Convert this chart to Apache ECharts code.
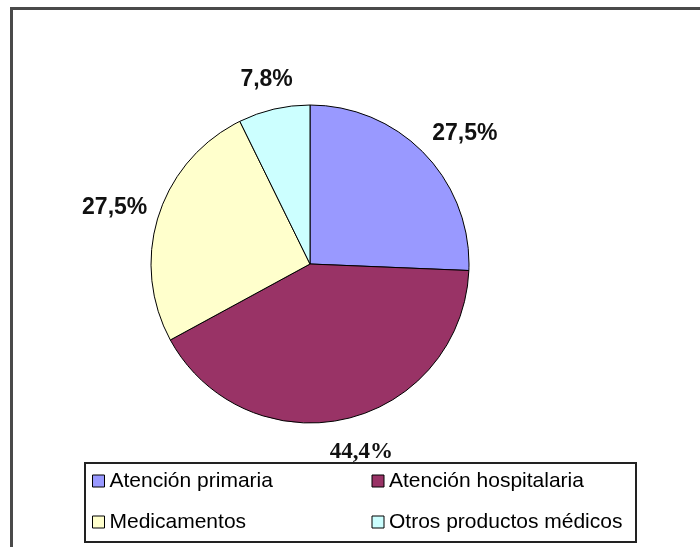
<!DOCTYPE html>
<html>
<head>
<meta charset="utf-8">
<script src="https://cdn.jsdelivr.net/npm/echarts@6/dist/echarts.min.js"></script>
<style>
  html, body { margin: 0; padding: 0; background: #fff; }
  #chart { width: 700px; height: 547px; }
</style>
</head>
<body>
<div id="chart"></div>
<script>
// gasto sanitario por función (%)
const categories = ['Atención primaria', 'Atención hospitalaria', 'Medicamentos', 'Otros productos médicos']
const values = [27.5, 44.4, 27.5, 7.8]
const colors = ['#9999FF', '#993366', '#FFFFCC', '#CCFFFF']

const pieX = 310
const chart = echarts.init(document.getElementById('chart'))

const pieData = categories.map((name, i) => ({ name, value: values[i] }))

// invisible ring outside the pie, only used to place the value labels
const labelData = categories.map((name, i) => ({
  name,
  value: values[i],
  label: i === 1 ? { fontFamily: '"Liberation Serif", "Times New Roman", serif' } : {}
}))

chart.setOption({
  animation: false,
  color: colors,
  graphic: [{
    type: 'rect',
    shape: { x: 11.5, y: 8.5, width: 760, height: 600 },
    style: { fill: 'none', stroke: '#4a4a4a', lineWidth: 3 },
    silent: true
  }],
  legend: {
    data: categories,
    left: 85,
    top: 463,
    width: 580,
    orient: 'horizontal',
    padding: [6, 2, 8, 7],
    itemGap: 17,
    itemWidth: 12,
    itemHeight: 12,
    icon: 'rect',
    borderColor: '#222',
    borderWidth: 2,
    itemStyle: { borderColor: '#000', borderWidth: 1 },
    textStyle: {
      fontFamily: '"Liberation Sans", Arial, sans-serif',
      fontSize: 21,
      color: '#000',
      width: 245,
      lineHeight: 24
    },
    selectedMode: false
  },
  series: [
    {
      type: 'pie',
      center: [pieX, 264],
      radius: 159,
      startAngle: 90,
      clockwise: true,
      label: { show: false },
      labelLine: { show: false },
      itemStyle: { borderColor: '#000', borderWidth: 1 },
      emphasis: { disabled: true },
      data: pieData
    },
    {
      type: 'pie',
      center: [pieX, 266],
      radius: [172, 204],
      startAngle: 90,
      clockwise: true,
      silent: true,
      itemStyle: { color: 'rgba(0,0,0,0)', borderWidth: 0 },
      labelLine: { show: false },
      label: {
        show: true,
        position: 'inside',
        color: '#111',
        fontSize: 23,
        fontWeight: 'bold',
        fontFamily: '"Liberation Sans", Arial, sans-serif',
        formatter: p => String(p.value).replace('.', ',') + '%'
      },
      // labels sit a bit wider than tall around the pie
      labelLayout: p => ({ dx: (p.labelRect.x + p.labelRect.width / 2 - pieX) * 0.095 + 4 }),
      emphasis: { disabled: true },
      data: labelData
    }
  ]
})
</script>
</body>
</html>
